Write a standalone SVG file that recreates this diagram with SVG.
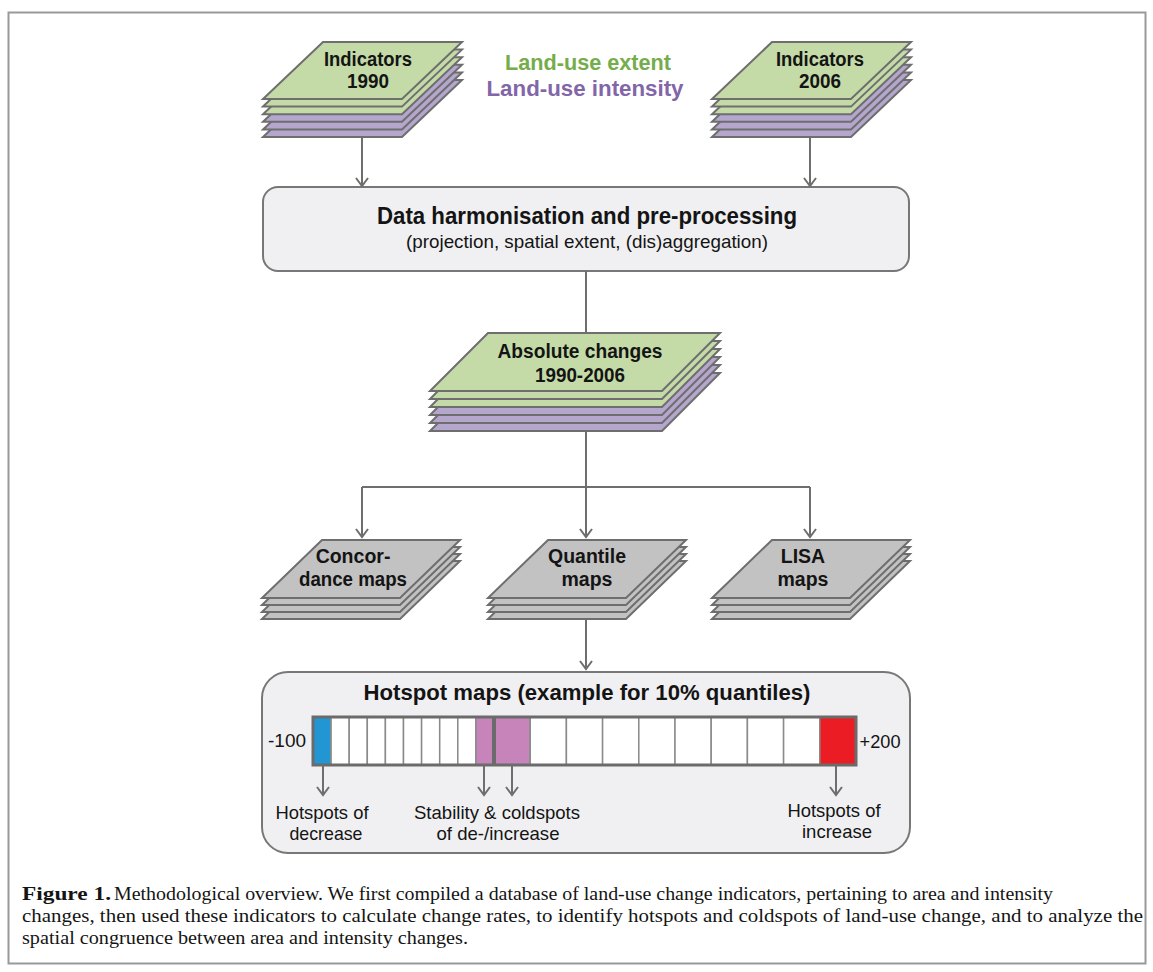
<svg xmlns="http://www.w3.org/2000/svg" xmlns:xlink="http://www.w3.org/1999/xlink" width="1153" height="972" viewBox="0 0 1153 972">
<style>
.g{fill:#c4dba8;stroke:#6e6e6e;stroke-width:2;stroke-linejoin:miter}
.p{fill:#b4a6cc;stroke:#6e6e6e;stroke-width:2}
.k{fill:#c2c2c2;stroke:#6e6e6e;stroke-width:2}
.box{fill:#f0f0f2;stroke:#777;stroke-width:2}
.t{font-family:"Liberation Sans",Arial,sans-serif;fill:#141414;text-anchor:middle}
.b{font-weight:bold}
.c{stroke:#6e6e6e;stroke-width:2;fill:none}
.cap{font-family:"Liberation Serif","Times New Roman",serif;font-size:19.5px;fill:#141414}
.cell{fill:#fff;stroke:#8a8a8a;stroke-width:1.5}
</style>
<defs>
<polygon id="lyrI" points="60,0 199,0 139,57 0,57"/>
<polygon id="lyrA" points="58,0 290,0 232,58 0,58"/>
<polygon id="lyrG" points="60,0 198,0 138,58 0,58"/>
<marker id="arr" markerWidth="16" markerHeight="16" refX="10" refY="8" orient="auto" markerUnits="userSpaceOnUse" overflow="visible">
<path d="M2,2 L10,8 L2,14" fill="none" stroke="#6e6e6e" stroke-width="2"/>
</marker>
</defs>
<rect x="8.5" y="12.5" width="1137" height="951" fill="#fff" stroke="#999" stroke-width="2"/>

<g id="legend">
<text class="t b" x="588" y="70" font-size="22" style="fill:#74ad4a" textLength="166" lengthAdjust="spacingAndGlyphs">Land-use extent</text>
<text class="t b" x="585" y="96" font-size="22" style="fill:#8266a8" textLength="197" lengthAdjust="spacingAndGlyphs">Land-use intensity</text>
</g>

<g id="indicators1990">
<use href="#lyrI" xlink:href="#lyrI" class="p" x="263" y="80"/>
<use href="#lyrI" xlink:href="#lyrI" class="p" x="263" y="72.4"/>
<use href="#lyrI" xlink:href="#lyrI" class="p" x="263" y="64.8"/>
<use href="#lyrI" xlink:href="#lyrI" class="g" x="263" y="57.2"/>
<use href="#lyrI" xlink:href="#lyrI" class="g" x="263" y="49.6"/>
<use href="#lyrI" xlink:href="#lyrI" class="g" x="263" y="42"/>
<text class="t b" x="368" y="66" font-size="20" textLength="88" lengthAdjust="spacingAndGlyphs">Indicators</text>
<text class="t b" x="368" y="88" font-size="20" textLength="42" lengthAdjust="spacingAndGlyphs">1990</text>
</g>

<g id="indicators2006">
<use href="#lyrI" xlink:href="#lyrI" class="p" x="712" y="80"/>
<use href="#lyrI" xlink:href="#lyrI" class="p" x="712" y="72.4"/>
<use href="#lyrI" xlink:href="#lyrI" class="p" x="712" y="64.8"/>
<use href="#lyrI" xlink:href="#lyrI" class="g" x="712" y="57.2"/>
<use href="#lyrI" xlink:href="#lyrI" class="g" x="712" y="49.6"/>
<use href="#lyrI" xlink:href="#lyrI" class="g" x="712" y="42"/>
<text class="t b" x="820" y="66" font-size="20" textLength="88" lengthAdjust="spacingAndGlyphs">Indicators</text>
<text class="t b" x="820" y="88" font-size="20" textLength="42" lengthAdjust="spacingAndGlyphs">2006</text>
</g>

<g id="harmonisation">
<rect class="box" x="263" y="187" width="646" height="84" rx="15" ry="15"/>
<text class="t b" x="587" y="224" font-size="23" textLength="420" lengthAdjust="spacingAndGlyphs">Data harmonisation and pre-processing</text>
<text class="t" x="587" y="248" font-size="19" textLength="362" lengthAdjust="spacingAndGlyphs">(projection, spatial extent, (dis)aggregation)</text>
</g>

<g id="absolute">
<use href="#lyrA" xlink:href="#lyrA" class="p" x="430" y="373"/>
<use href="#lyrA" xlink:href="#lyrA" class="p" x="430" y="365"/>
<use href="#lyrA" xlink:href="#lyrA" class="p" x="430" y="357"/>
<use href="#lyrA" xlink:href="#lyrA" class="g" x="430" y="349"/>
<use href="#lyrA" xlink:href="#lyrA" class="g" x="430" y="341"/>
<use href="#lyrA" xlink:href="#lyrA" class="g" x="430" y="333"/>
<text class="t b" x="580" y="358" font-size="19.5" textLength="165" lengthAdjust="spacingAndGlyphs">Absolute changes</text>
<text class="t b" x="580" y="382" font-size="19.5" textLength="90" lengthAdjust="spacingAndGlyphs">1990-2006</text>
</g>

<g id="concordance">
<use href="#lyrG" xlink:href="#lyrG" class="k" x="262" y="561"/>
<use href="#lyrG" xlink:href="#lyrG" class="k" x="262" y="554"/>
<use href="#lyrG" xlink:href="#lyrG" class="k" x="262" y="547"/>
<use href="#lyrG" xlink:href="#lyrG" class="k" x="262" y="540"/>
<text class="t b" x="353" y="563" font-size="19.5">Concor-</text>
<text class="t b" x="353" y="586" font-size="19.5" textLength="108" lengthAdjust="spacingAndGlyphs">dance maps</text>
</g>

<g id="quantile">
<use href="#lyrG" xlink:href="#lyrG" class="k" x="488" y="561"/>
<use href="#lyrG" xlink:href="#lyrG" class="k" x="488" y="554"/>
<use href="#lyrG" xlink:href="#lyrG" class="k" x="488" y="547"/>
<use href="#lyrG" xlink:href="#lyrG" class="k" x="488" y="540"/>
<text class="t b" x="587" y="563" font-size="19.5">Quantile</text>
<text class="t b" x="587" y="586" font-size="19.5">maps</text>
</g>

<g id="lisa">
<use href="#lyrG" xlink:href="#lyrG" class="k" x="712" y="561"/>
<use href="#lyrG" xlink:href="#lyrG" class="k" x="712" y="554"/>
<use href="#lyrG" xlink:href="#lyrG" class="k" x="712" y="547"/>
<use href="#lyrG" xlink:href="#lyrG" class="k" x="712" y="540"/>
<text class="t b" x="803" y="563" font-size="19.5">LISA</text>
<text class="t b" x="803" y="586" font-size="19.5">maps</text>
</g>

<g id="hotspot">
<rect class="box" x="262" y="672" width="648" height="181" rx="26" ry="26"/>
<text class="t b" x="587" y="700" font-size="21.5" textLength="447" lengthAdjust="spacingAndGlyphs">Hotspot maps (example for 10% quantiles)</text>
<g id="bar">
<rect class="cell" x="313" y="717" width="18.1" height="48" style="fill:#2196d3"/>
<rect class="cell" x="331.1" y="717" width="18.1" height="48"/>
<rect class="cell" x="349.2" y="717" width="18.1" height="48"/>
<rect class="cell" x="367.3" y="717" width="18.1" height="48"/>
<rect class="cell" x="385.4" y="717" width="18.1" height="48"/>
<rect class="cell" x="403.5" y="717" width="18.1" height="48"/>
<rect class="cell" x="421.6" y="717" width="18.1" height="48"/>
<rect class="cell" x="439.7" y="717" width="18.1" height="48"/>
<rect class="cell" x="457.8" y="717" width="18.1" height="48"/>
<rect class="cell" x="475.9" y="717" width="18.1" height="48" style="fill:#c684ba"/>
<rect class="cell" x="494" y="717" width="36.2" height="48" style="fill:#c684ba"/>
<rect class="cell" x="530.2" y="717" width="36.2" height="48"/>
<rect class="cell" x="566.4" y="717" width="36.2" height="48"/>
<rect class="cell" x="602.6" y="717" width="36.2" height="48"/>
<rect class="cell" x="638.8" y="717" width="36.2" height="48"/>
<rect class="cell" x="675" y="717" width="36.2" height="48"/>
<rect class="cell" x="711.2" y="717" width="36.2" height="48"/>
<rect class="cell" x="747.4" y="717" width="36.2" height="48"/>
<rect class="cell" x="783.6" y="717" width="36.2" height="48"/>
<rect class="cell" x="819.8" y="717" width="36.2" height="48" style="fill:#ec1c24"/>
<line x1="494" y1="717" x2="494" y2="765" stroke="#6b6b6b" stroke-width="4"/>
<rect x="313" y="717" width="543" height="48" fill="none" stroke="#6b6b6b" stroke-width="3"/>
</g>
<text class="t" x="287" y="747" font-size="18.5" textLength="38" lengthAdjust="spacingAndGlyphs">-100</text>
<text class="t" x="880" y="748" font-size="18.5" textLength="41" lengthAdjust="spacingAndGlyphs">+200</text>
<text class="t" x="322" y="819" font-size="19" textLength="93" lengthAdjust="spacingAndGlyphs">Hotspots of</text>
<text class="t" x="326" y="840" font-size="19" textLength="73" lengthAdjust="spacingAndGlyphs">decrease</text>
<text class="t" x="497" y="819" font-size="19" textLength="166" lengthAdjust="spacingAndGlyphs">Stability &amp; coldspots</text>
<text class="t" x="498" y="840" font-size="19" textLength="123" lengthAdjust="spacingAndGlyphs">of de-/increase</text>
<text class="t" x="834" y="817" font-size="19" textLength="93" lengthAdjust="spacingAndGlyphs">Hotspots of</text>
<text class="t" x="837" y="838" font-size="19" textLength="70" lengthAdjust="spacingAndGlyphs">increase</text>
</g>

<g id="connectors">
<path class="c" d="M362,138 V186" marker-end="url(#arr)"/>
<path class="c" d="M810,138 V186" marker-end="url(#arr)"/>
<path class="c" d="M586,271 V333"/>
<path class="c" d="M586,432 V487"/>
<path class="c" d="M362,487 H810"/>
<path class="c" d="M362,487 V537" marker-end="url(#arr)"/>
<path class="c" d="M586,487 V537" marker-end="url(#arr)"/>
<path class="c" d="M810,487 V537" marker-end="url(#arr)"/>
<path class="c" d="M586,620 V669" marker-end="url(#arr)"/>
<path class="c" d="M323,765 V795" marker-end="url(#arr)"/>
<path class="c" d="M484,765 V795" marker-end="url(#arr)"/>
<path class="c" d="M512,765 V795" marker-end="url(#arr)"/>
<path class="c" d="M836,765 V795" marker-end="url(#arr)"/>
</g>

<g id="caption">
<text class="cap" x="22" y="900" font-weight="bold" textLength="89" lengthAdjust="spacingAndGlyphs">Figure 1.</text>
<text class="cap" x="114" y="900" textLength="939" lengthAdjust="spacingAndGlyphs">Methodological overview. We first compiled a database of land-use change indicators, pertaining to area and intensity</text>
<text class="cap" x="22" y="922" textLength="1121" lengthAdjust="spacingAndGlyphs">changes, then used these indicators to calculate change rates, to identify hotspots and coldspots of land-use change, and to analyze the</text>
<text class="cap" x="22" y="944" textLength="446" lengthAdjust="spacingAndGlyphs">spatial congruence between area and intensity changes.</text>
</g>
</svg>
